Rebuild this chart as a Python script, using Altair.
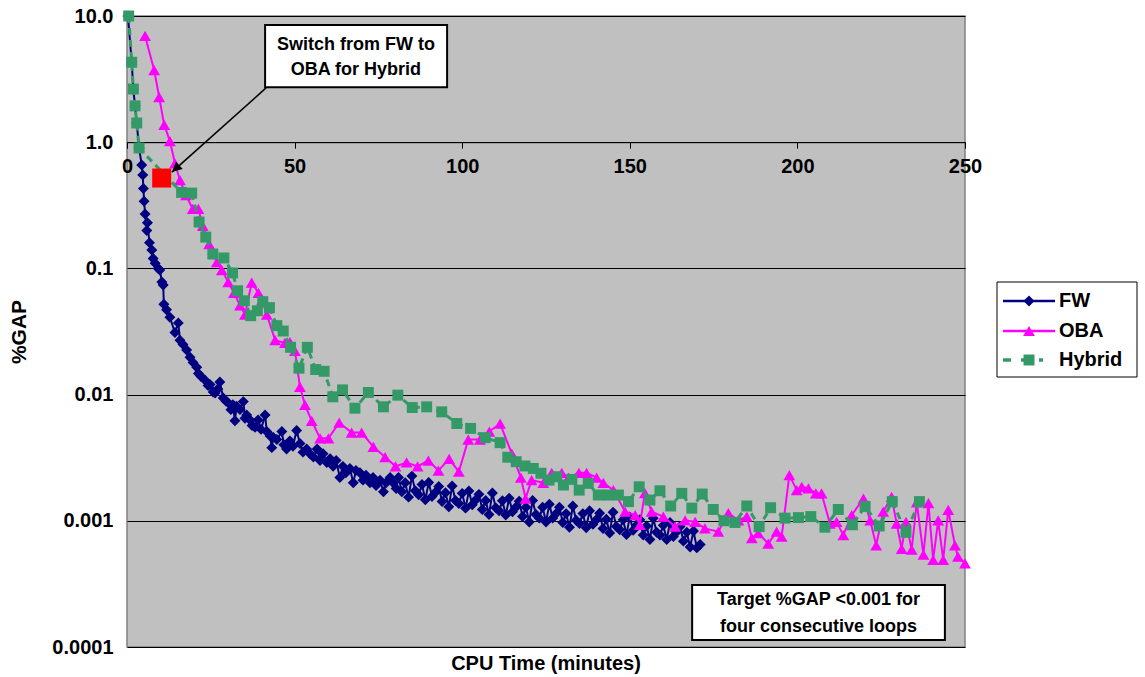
import altair as alt
import pandas as pd

FONT = "Liberation Sans"

# ---------------- data ----------------
series_names = ["FW", "OBA", "Hybrid"]
series_colors = ["#000080", "#FF00FF", "#339966"]
series_shapes = ["diamond", "triangle-up", "square"]

fw_t = [0.3, 1.4, 1.9, 2.4, 2.9, 3.6, 4.4, 4.7, 4.9, 5.1,
        5.4, 5.9, 6.1, 6.7, 7.4, 7.8, 8.4, 9.3, 9.8, 10.4,
        10.8, 11.0, 11.8, 12.8, 14.3, 15.3, 15.8, 16.7, 17.8, 18.8,
        19.7, 20.8, 21.3, 22.1, 23.3, 24.2, 24.8, 25.7, 26.3, 27.1,
        27.7, 28.7, 29.5, 30.2, 31.0, 31.6, 32.2, 32.7, 33.7, 34.7,
        35.2, 35.7, 36.7, 37.3, 38.2, 39.1, 40.0, 41.2, 41.7, 42.7,
        43.2, 43.6, 44.7, 46.2, 46.8, 47.6, 48.6, 49.5, 50.6, 51.6,
        52.5, 53.6, 54.6, 55.6, 56.7, 57.6, 58.5, 59.6, 60.6, 61.5,
        62.4, 63.5, 64.4, 65.3, 66.5, 67.5, 68.3, 69.5, 70.4, 71.3,
        72.5, 73.4, 74.3, 75.5, 76.5, 77.3, 78.5, 79.4, 80.3,
        81, 82, 83, 84, 85, 86, 87, 88, 89, 90,
        91, 92, 93, 94, 95, 96, 97, 98, 99, 100,
        101, 102, 103, 104, 105, 106, 107, 108, 109, 110,
        111, 112, 113, 114, 115, 116, 117, 118, 119, 120,
        121, 122, 123, 124, 125, 126, 127, 128, 129, 130,
        131, 132, 133, 134, 135, 136, 137, 138, 139, 140,
        141, 142, 143, 144, 145, 146, 147, 148, 149, 150,
        151, 152, 153, 154, 155, 156, 157, 158, 159, 160,
        161, 162, 163, 164, 165, 166, 167, 168, 169, 170,
        171]
fw_v = [10.0, 4.3, 2.6, 1.94, 1.42, 0.9, 0.66, 0.55, 0.43, 0.34,
        0.27, 0.20, 0.23, 0.16, 0.14, 0.12, 0.11, 0.10, 0.097, 0.078,
        0.074, 0.052, 0.047, 0.041, 0.031, 0.037, 0.027, 0.025, 0.0226, 0.0198,
        0.018, 0.0165, 0.0147, 0.0139, 0.0130, 0.0118, 0.0120, 0.0105, 0.0103, 0.0111,
        0.0126, 0.0094, 0.0089, 0.0086, 0.0076, 0.0083, 0.0062, 0.0081, 0.0076, 0.0088,
        0.0065, 0.0069, 0.0063, 0.0057, 0.0055, 0.0063, 0.0053, 0.0069, 0.0051, 0.0047,
        0.0038, 0.0046, 0.0044, 0.0051, 0.0040, 0.0037, 0.0043, 0.0039, 0.0052, 0.0041,
        0.0035, 0.0037, 0.0034, 0.0032, 0.0037, 0.0030, 0.0034, 0.0029, 0.0031, 0.0027,
        0.0030, 0.0022, 0.0027, 0.0024, 0.0026, 0.0020, 0.0025, 0.0024, 0.0021, 0.0023,
        0.0020, 0.0022, 0.0019, 0.0021, 0.0017, 0.0020, 0.0022, 0.0020, 0.0018,
        0.0022, 0.0017, 0.0020, 0.00154, 0.00226, 0.00173, 0.00161, 0.00194, 0.00147, 0.00201,
        0.00156, 0.00168, 0.00187, 0.00142, 0.00167, 0.00129, 0.00189, 0.00145, 0.00137, 0.00165,
        0.00126, 0.00172, 0.00134, 0.00146, 0.00162, 0.00123, 0.00145, 0.00112, 0.00166, 0.00127,
        0.00120, 0.00144, 0.00111, 0.00151, 0.00118, 0.00128, 0.00143, 0.00108, 0.00128, 0.00098,
        0.00145, 0.00112, 0.00105, 0.00128, 0.00098, 0.00135, 0.00105, 0.00114, 0.00128, 0.00097,
        0.00114, 0.00089, 0.00131, 0.00101, 0.00095, 0.00114, 0.00088, 0.00120, 0.00094, 0.00102,
        0.00115, 0.00087, 0.00103, 0.00080, 0.00117, 0.00090, 0.00085, 0.00102, 0.00078, 0.00107,
        0.00084, 0.00092, 0.00102, 0.00077, 0.00091, 0.00071, 0.00105, 0.00081, 0.00077, 0.00092,
        0.00071, 0.00097, 0.00075, 0.00082, 0.00090, 0.00069, 0.00081, 0.00062, 0.00083, 0.00061,
        0.00065]

oba_t = [5.4, 8.1, 9.6, 11.1, 12.8, 14.3, 15.8, 17.6, 19.6, 21.3,
         22.6, 24.5, 26.8, 28.3, 30.2, 31.9, 33.7, 35.2, 37.2, 39.2,
         40.3, 41.7, 44.2, 47.1, 48.6, 50.1, 51.6, 53.1, 55.1, 57.6,
         60.1, 63.3, 67.0, 70.0, 73.5, 77.0, 80.1, 83.4, 86.7, 89.9,
         92.9, 96.1, 99.0, 101.8, 105.3, 108.1, 111.3, 114.8, 117.5, 118.9,
         120.7, 124.2, 126.7, 129.7, 131.7, 134.8, 137.1, 140.1, 142.1, 145.1,
         148.6, 151.6, 153.0, 154.5, 156.5, 160.0, 163.5, 166.5, 169.5, 172.4,
         176.4, 179.4, 182.4, 184.9, 186.4, 188.3, 191.3, 193.8, 195.3, 197.6,
         199.8, 201.3, 203.3, 205.5, 207.2, 209.7, 211.7, 213.7, 216.2, 219.7,
         221.7, 223.5, 225.6, 228.1, 229.6, 231.1, 232.4, 234.1, 235.6, 237.6,
         239.1, 240.5, 242.0, 243.5, 245.0, 247.0, 247.9, 250.0]
oba_v = [6.95, 3.73, 2.28, 1.37, 1.02, 0.68, 0.50, 0.38, 0.296, 0.296,
         0.217, 0.156, 0.112, 0.097, 0.078, 0.064, 0.051, 0.043, 0.077, 0.064,
         0.056, 0.043, 0.027, 0.0257, 0.026, 0.0222, 0.0115, 0.0083, 0.0062, 0.0045,
         0.0045, 0.006, 0.005, 0.005, 0.00385, 0.0032, 0.0027, 0.0029, 0.0027, 0.003,
         0.0025, 0.0031, 0.00245, 0.0044, 0.0044, 0.0051, 0.0059, 0.0034, 0.0022, 0.0015,
         0.0021, 0.0020, 0.0024, 0.0024, 0.0022, 0.0024, 0.0024, 0.0022, 0.0020, 0.00175,
         0.00118, 0.00111, 0.00093, 0.00166, 0.00118, 0.00108, 0.0009, 0.00101, 0.00098, 0.00087,
         0.00082, 0.00115, 0.00101, 0.00108, 0.00073, 0.0008, 0.00066, 0.00082, 0.00075, 0.0023,
         0.00175, 0.00186, 0.00181, 0.00165, 0.00165, 0.00095, 0.00098, 0.00077, 0.00111, 0.0015,
         0.00101, 0.00064, 0.00118, 0.00155, 0.00095, 0.0006, 0.00098, 0.00059, 0.0014, 0.00054,
         0.00138, 0.00049, 0.00101, 0.00049, 0.00122, 0.00064, 0.00052, 0.00046]

hyb_t = [0.5, 1.4, 1.9, 2.4, 2.9, 3.6, 16.3, 19.3, 21.5, 23.5,
         25.6, 28.9, 31.5, 33.0, 35.0, 36.9, 38.9, 40.5, 42.5, 44.7,
         46.6, 48.8, 51.3, 53.8, 56.3, 58.8, 61.4, 64.3, 68.0, 72.0,
         76.5, 80.8, 85.1, 89.4, 93.9, 98.4, 102.5, 106.9, 111.3, 113.6,
         116.1, 118.7, 121.2, 123.5, 125.9, 128.2, 130.2, 132.7, 134.9, 137.6,
         140.6, 143.6, 146.6, 149.6, 152.8, 156.0, 159.0, 162.2, 165.5, 168.5,
         171.6, 174.9, 178.1, 181.4, 184.9, 188.6, 192.0, 196.3, 200.3, 204.0,
         208.2, 212.2, 216.4, 220.2, 224.4, 228.3, 232.4, 236.4]
hyb_v = [10.0, 4.3, 2.64, 1.94, 1.42, 0.9, 0.40, 0.395, 0.233, 0.177,
         0.13, 0.121, 0.092, 0.0665, 0.0554, 0.0422, 0.0462, 0.0545, 0.0489, 0.0352,
         0.0319, 0.0237, 0.0162, 0.0237, 0.0158, 0.0153, 0.0096, 0.0109, 0.0078, 0.0104,
         0.0080, 0.0099, 0.0079, 0.0080, 0.0073, 0.0059, 0.0054, 0.00456, 0.00416, 0.00319,
         0.00294, 0.00272, 0.0026, 0.00238, 0.0021, 0.00223, 0.00192, 0.00213, 0.00175, 0.00198,
         0.0016, 0.0016, 0.0016, 0.00142, 0.00186, 0.00146, 0.00173, 0.00131, 0.00165, 0.00126,
         0.00163, 0.00123, 0.001, 0.00097, 0.00131, 0.0009, 0.00127, 0.00105, 0.00106, 0.00108,
         0.00089, 0.00123, 0.00093, 0.0013, 0.00091, 0.00142, 0.00081, 0.00142]

switch_t = [10.35]
switch_v = [0.52]

x_ticks = [0, 50, 100, 150, 200, 250]
y_ticks = [0.0001, 0.001, 0.01, 0.1, 1, 10]

# annotation boxes (data coordinates) and their texts
box_t = [41.2, 168.6]
box_t2 = [95.5, 244.0]
box_v = [8.49, 0.00031]
box_v2 = [2.73, 0.0001135]
note_t = [68.3, 68.3, 206.3, 206.3]
note_v = [5.89, 3.73, 0.000235, 0.000144]
note_text = ["Switch from FW to", "OBA for Hybrid",
             "Target %GAP <0.001 for", "four consecutive loops"]
arrow_t = [41.5]
arrow_v = [2.69]
arrow_t2 = [13.4]
arrow_v2 = [0.58]

# ---------------- layout ----------------
W, H = 838, 631
PAD = {"left": 127, "top": 16, "right": 180, "bottom": 30}

x_scale = alt.Scale(domain=[0, 250], nice=False, zero=False)
y_scale = alt.Scale(type="log", domain=[0.0001, 10], nice=False)

x_axis = alt.Axis(values=x_ticks, title=None, grid=False, offset=-(H * 4 / 5),
                  labelFontSize=20, labelFontWeight="bold", labelFont=FONT,
                  labelColor="black", tickColor="black", tickSize=6, tickWidth=1,
                  domainColor="black", domainWidth=1, labelPadding=8,
                  labelFlush=False, labelOverlap=False)
y_axis = alt.Axis(values=y_ticks, title="%GAP", grid=True, gridColor="black",
                  gridWidth=1, gridOpacity=1,
                  labelExpr="datum.value >= 1 ? format(datum.value, '.1f') : format(datum.value, '~g')",
                  labelFontSize=20, labelFontWeight="bold", labelFont=FONT,
                  labelColor="black", tickSize=0, labelPadding=14, domain=False,
                  titleFontSize=21, titleFontWeight="bold", titleFont=FONT,
                  titleColor="black", titlePadding=22, labelFlush=False,
                  labelOverlap=False)

x_enc = alt.X("t:Q", scale=x_scale, axis=x_axis)
y_enc = alt.Y("v:Q", scale=y_scale, axis=y_axis)

series_data = [(fw_t, fw_v), (oba_t, oba_v), (hyb_t, hyb_v)]
point_sizes = [120, 140, 120]
line_dash = [None, None, [7, 5]]
line_width = [2, 2, 3]

layers = []
for i, name in enumerate(series_names):
    ts, vs = series_data[i]
    d = pd.DataFrame({"t": ts, "v": vs})
    lk = dict(color=series_colors[i], strokeWidth=line_width[i])
    if line_dash[i]:
        lk["strokeDash"] = line_dash[i]
    layers.append(alt.Chart(d).mark_line(**lk).encode(x=x_enc, y=y_enc))
    layers.append(alt.Chart(d).mark_point(filled=True, shape=series_shapes[i],
                                          size=point_sizes[i], color=series_colors[i],
                                          opacity=1, strokeWidth=0)
                  .encode(x=x_enc, y=y_enc))

# switch marker
sw = pd.DataFrame({"t": switch_t, "v": switch_v})
layers.append(alt.Chart(sw).mark_point(filled=True, shape="square", size=361,
                                       color="#FF0000", opacity=1, strokeWidth=0)
              .encode(x=x_enc, y=y_enc))

# annotation boxes
bx = pd.DataFrame({"t": box_t, "t2": box_t2, "v": box_v, "v2": box_v2})
layers.append(alt.Chart(bx).mark_rect(fill="white", stroke="black", strokeWidth=2)
              .encode(x=x_enc, x2="t2:Q", y=y_enc, y2="v2:Q"))
nt = pd.DataFrame({"t": note_t, "v": note_v, "label": note_text})
layers.append(alt.Chart(nt).mark_text(font=FONT, fontSize=18, fontWeight="bold",
                                      color="black", align="center", baseline="middle")
              .encode(x=x_enc, y=y_enc, text="label:N"))

# arrow
ar = pd.DataFrame({"t": arrow_t, "v": arrow_v, "t2": arrow_t2, "v2": arrow_v2})
layers.append(alt.Chart(ar).mark_rule(color="black", strokeWidth=1.6)
              .encode(x=x_enc, y=y_enc, x2="t2:Q", y2="v2:Q"))
ah = pd.DataFrame({"t": arrow_t2, "v": arrow_v2})
layers.append(alt.Chart(ah).mark_point(filled=True, shape="M0,0L0.5,1L-0.5,1Z",
                                       size=400, angle=228, color="black", opacity=1,
                                       strokeWidth=0)
              .encode(x=x_enc, y=y_enc))

# legend (drawn beside the plot)
LX0, LX1, LY0, LY1 = 870, 1010, 266, 361
row_y = [285, 315, 344]
one = pd.DataFrame({"k": [0]})
layers.append(alt.Chart(one).mark_rect(fill="white", stroke="black", strokeWidth=1)
              .encode(x=alt.value(LX0), x2=alt.value(LX1), y=alt.value(LY0), y2=alt.value(LY1)))
for i, name in enumerate(series_names):
    rk = dict(color=series_colors[i], strokeWidth=line_width[i] + 0.5)
    x_end = 928
    if line_dash[i]:
        rk["strokeDash"] = [8, 10]
        x_end = 916
    layers.append(alt.Chart(one).mark_rule(**rk)
                  .encode(x=alt.value(876), x2=alt.value(x_end), y=alt.value(row_y[i])))
    layers.append(alt.Chart(one).mark_point(filled=True, shape=series_shapes[i],
                                            size=point_sizes[i], color=series_colors[i],
                                            opacity=1, strokeWidth=0)
                  .encode(x=alt.value(902), y=alt.value(row_y[i])))
    layers.append(alt.Chart(one).mark_text(font=FONT, fontSize=20, fontWeight="bold",
                                           color="black", align="left", baseline="middle")
                  .encode(x=alt.value(932), y=alt.value(row_y[i]), text=alt.value(name)))

chart = (
    alt.layer(*layers)
    .properties(
        width=W, height=H,
        autosize=alt.AutoSizeParams(type="none"),
        padding=PAD,
        title=alt.TitleParams("CPU Time (minutes)", orient="bottom", anchor="middle",
                              frame="group", offset=-3, fontSize=20, fontWeight="bold",
                              font=FONT, color="black"),
    )
    .configure(background="white")
    .configure_view(fill="#C0C0C0", stroke="#808080", strokeWidth=1.5)
)

chart.save("out.html", embed_options={"renderer": "svg", "actions": False})
